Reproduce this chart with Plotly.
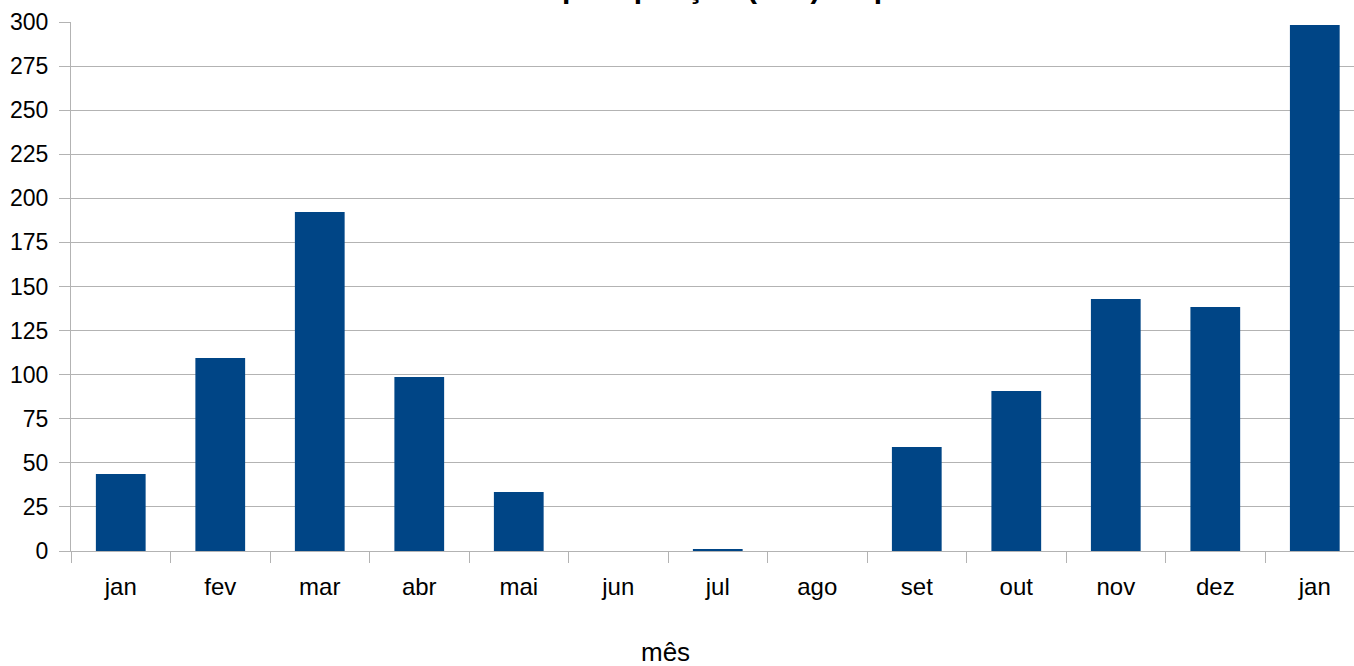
import plotly.graph_objects as go

months = ["jan", "fev", "mar", "abr", "mai", "jun", "jul", "ago", "set", "out", "nov", "dez", "jan"]
precip_mm = [43.7, 109.4, 192.2, 98.7, 33.5, 0, 0.8, 0, 59.0, 90.7, 142.9, 138.4, 298.3]
y_ticks = list(range(0, 301, 25))
title_text = "precipitação (mm) no período"
x_title = "mês"

idx = list(range(len(months)))
boundaries = [i - 0.5 for i in range(len(months) + 1)]

fig = go.Figure()
fig.add_trace(go.Bar(x=idx, y=precip_mm, marker=dict(color="#004586", line=dict(width=0)),
                     width=0.5, showlegend=False))

font = "Liberation Sans, Arial, sans-serif"
fig.update_layout(
    width=1354, height=666,
    margin=dict(l=71, r=0, t=22, b=115, autoexpand=False),
    paper_bgcolor="white", plot_bgcolor="white",
    font=dict(family=font, size=23, color="black"),
    xaxis=dict(
        range=[-0.5, 12.394], automargin=False,
        tickmode="array", tickvals=idx, ticktext=months, ticks="",
        showgrid=False, zeroline=False,
        showline=True, linecolor="#b3b3b3", linewidth=1,
        tickfont=dict(size=24), ticklabelstandoff=14,
        minor=dict(tickmode="array", tickvals=boundaries, ticks="outside", ticklen=11,
                   tickcolor="#b3b3b3", showgrid=False),
    ),
    yaxis=dict(
        range=[0, 300], tickmode="array", tickvals=y_ticks, automargin=False,
        ticks="outside", ticklen=11, tickcolor="#b3b3b3",
        showgrid=True, gridcolor="#b3b3b3", gridwidth=1,
        zeroline=False, showline=True, linecolor="#b3b3b3", linewidth=1,
        tickfont=dict(size=23), ticklabelstandoff=6,
    ),
    annotations=[
        dict(text="<b>" + title_text + "</b>", xref="paper", yref="paper",
             x=0.381, y=1, xanchor="left", yanchor="bottom", yshift=16,
             showarrow=False, font=dict(size=30, family=font)),
        dict(text=x_title, xref="paper", yref="paper",
             x=0.4637, y=0, xanchor="center", yanchor="middle", yshift=-101,
             showarrow=False, font=dict(size=26, family=font)),
    ],
)

fig.write_html("out.html", config={"displayModeBar": False},
               post_script="document.body.style.margin='0';document.body.style.overflow='hidden';")
